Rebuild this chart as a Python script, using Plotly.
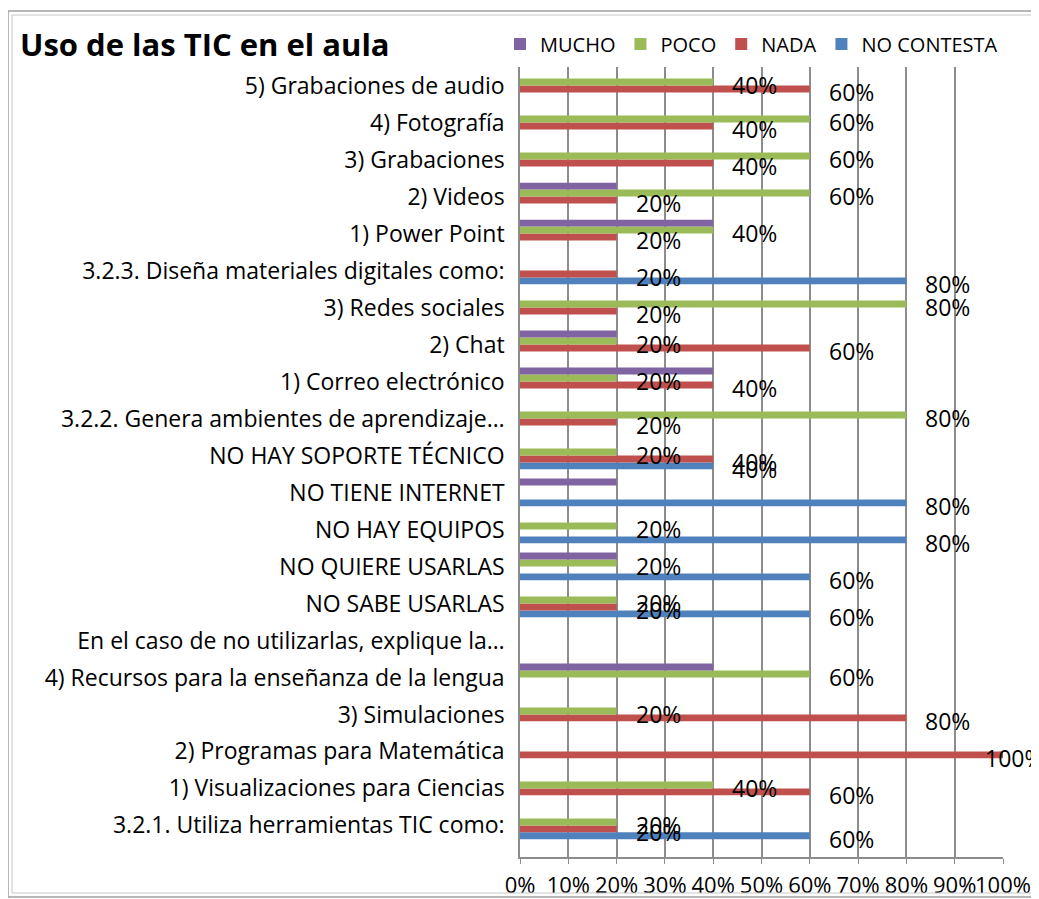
import plotly.graph_objects as go

# categories listed bottom -> top (plotly draws the first category at the bottom)
categories = [
    "3.2.1. Utiliza herramientas TIC como:",
    "1) Visualizaciones para Ciencias",
    "2) Programas para Matemática",
    "3) Simulaciones",
    "4) Recursos para la enseñanza de la lengua",
    "En el caso de no utilizarlas, explique la…",
    "NO SABE USARLAS",
    "NO QUIERE USARLAS",
    "NO HAY EQUIPOS",
    "NO TIENE INTERNET",
    "NO HAY SOPORTE TÉCNICO",
    "3.2.2. Genera ambientes de aprendizaje…",
    "1) Correo electrónico",
    "2) Chat",
    "3) Redes sociales",
    "3.2.3. Diseña materiales digitales como:",
    "1) Power Point",
    "2) Videos",
    "3) Grabaciones",
    "4) Fotografía",
    "5) Grabaciones de audio",
]

mucho = [None, None, None, None, 0.4, None, None, 0.2, None, 0.2, None,
         None, 0.4, 0.2, None, None, 0.4, 0.2, None, None, None]
poco = [0.2, 0.4, None, 0.2, 0.6, None, 0.2, 0.2, 0.2, None, 0.2,
        0.8, 0.2, 0.2, 0.8, None, 0.4, 0.6, 0.6, 0.6, 0.4]
nada = [0.2, 0.6, 1.0, 0.8, None, None, 0.2, None, None, None, 0.4,
        0.2, 0.4, 0.6, 0.2, 0.2, 0.2, 0.2, 0.4, 0.4, 0.6]
no_contesta = [0.6, None, None, None, None, None, 0.6, 0.6, 0.8, 0.8, 0.4,
               None, None, None, None, 0.8, None, None, None, None, None]

x_ticks = [i / 10 for i in range(11)]

# trace order bottom -> top inside each group
series = [
    ("NO CONTESTA", no_contesta, "#4F81BD", True),
    ("NADA", nada, "#C0504D", True),
    ("POCO", poco, "#9BBB59", True),
    ("MUCHO", mucho, "#8064A2", False),
]

# the page body has an 8px margin, so the figure is drawn 8px smaller
OFF = 8
W, H = 1039 - OFF, 899 - OFF
ML, MR, MT, MB = 512, 36, 59, 42
BARGAP = 0.25
FONT = "Open Sans"
LABEL_MAX_X = 983 - OFF  # data labels are kept inside the chart area

plot_w = W - ML - MR
plot_h = H - MT - MB
bar_px = plot_h / len(categories) * (1 - BARGAP) / len(series)

fig = go.Figure()
annotations = []
for j, (name, vals, color, labelled) in enumerate(series):
    fig.add_trace(go.Bar(
        name=name, y=categories, x=vals, orientation="h",
        marker=dict(color=color, line=dict(width=0)),
    ))
    if not labelled:
        continue
    for cat, v in zip(categories, vals):
        if v is None:
            continue
        end_px = ML + v * plot_w
        annotations.append(dict(
            x=v, y=cat, xref="x", yref="y", text=f"{v:.0%}",
            showarrow=False, xanchor="left", yanchor="middle",
            xshift=min(17, LABEL_MAX_X - end_px), yshift=(j - 1.5) * bar_px - 3,
            font=dict(family=FONT, size=23, color="black"),
        ))


# reference-picture pixels -> paper coordinates
def px_x(p):
    return (p - OFF - ML) / plot_w


def px_y(p):
    return (H - MB - (p - OFF)) / plot_h


shapes = [
    dict(type="rect", xref="paper", yref="paper",
         x0=px_x(8), x1=px_x(1060), y0=px_y(897), y1=px_y(11),
         line=dict(color="#a0a0a0", width=1.5)),
    dict(type="rect", xref="paper", yref="paper",
         x0=px_x(12), x1=px_x(1056), y0=px_y(893), y1=px_y(15),
         line=dict(color="#c8c8c8", width=1)),
]

fig.update_layout(
    width=W, height=H,
    margin=dict(l=ML, r=MR, t=MT, b=MB, pad=0, autoexpand=False),
    paper_bgcolor="white", plot_bgcolor="white",
    barmode="group", bargap=BARGAP, bargroupgap=0,
    font=dict(family=FONT, size=22, color="black"),
    title=dict(text="<b>Uso de las TIC en el aula</b>", x=(20 - OFF) / W, xanchor="left",
               y=1 - (45 - OFF) / H, yanchor="middle",
               font=dict(family=FONT, size=31, color="black")),
    legend=dict(orientation="h", traceorder="reversed",
                x=px_x(500), xanchor="left", y=px_y(44), yanchor="middle",
                font=dict(family=FONT, size=20), itemwidth=30,
                bgcolor="rgba(0,0,0,0)"),
    xaxis=dict(range=[0, 1], tickvals=x_ticks, tickformat=".0%", tickangle=0,
               showgrid=True, gridcolor="#8c8c8c", gridwidth=1.5,
               showline=True, linecolor="#8c8c8c", linewidth=1.5,
               ticks="outside", ticklen=5, tickcolor="#8c8c8c",
               ticklabelstandoff=3, zeroline=False, automargin=False,
               tickfont=dict(family=FONT, size=22)),
    yaxis=dict(showgrid=False, showline=True, linecolor="#8c8c8c", linewidth=1.5,
               ticks="", ticklabelstandoff=9, automargin=False,
               tickfont=dict(family=FONT, size=23)),
    annotations=annotations,
    shapes=shapes,
)

fig.write_html("out.html")
